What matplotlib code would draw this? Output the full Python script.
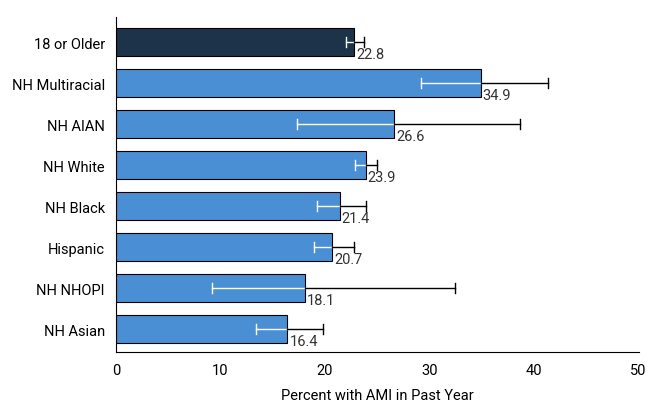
import matplotlib
matplotlib.use("Agg")
import matplotlib.pyplot as plt

cats = ["18 or Older", "NH Multiracial", "NH AIAN", "NH White", "NH Black", "Hispanic", "NH NHOPI", "NH Asian"]
vals = [22.8, 34.9, 26.6, 23.9, 21.4, 20.7, 18.1, 16.4]
lo = [22.0, 29.2, 17.3, 22.9, 19.2, 18.9, 9.2, 13.4]
hi = [23.7, 41.3, 38.7, 25.0, 23.9, 22.8, 32.4, 19.8]

plt.rcParams['font.family'] = ['Roboto', 'DejaVu Sans']
fig, ax = plt.subplots(figsize=(6.55, 4.10), dpi=100)
fig.subplots_adjust(left=0.177, right=0.975, top=0.955, bottom=0.14)
y = list(range(len(cats)))
colors = ["#1c3349"] + ["#4a8fd4"] * (len(cats) - 1)
ax.barh(y, vals, height=0.68, color=colors, edgecolor="black", linewidth=0.8, zorder=2)
cap = 0.13
for i, (v, l, h) in enumerate(zip(vals, lo, hi)):
    # inside bar: white, outside: black
    ax.plot([l, min(h, v)], [i, i], color="white", lw=1, zorder=3)
    ax.plot([l, l], [i - cap, i + cap], color="white" if l < v else "black", lw=1, zorder=3)
    if h > v:
        ax.plot([v, h], [i, i], color="black", lw=1, zorder=3)
    ax.plot([h, h], [i - cap, i + cap], color="white" if h < v else "black", lw=1, zorder=3)
    ax.text(v + 0.2, i + 0.3, f"{v:.1f}", va="center", ha="left", fontsize=10.5, color="#333333")
ax.set_yticks(y)
ax.set_yticklabels(cats, fontsize=10.5)
ax.tick_params(axis="y", length=0, pad=8)
ax.set_ylim(len(cats) - 0.45, -0.6)
ax.set_xlim(0, 50)
ax.set_xticks([0, 10, 20, 30, 40, 50])
ax.tick_params(axis="x", labelsize=10.5, length=0, pad=8)
ax.set_xlabel("Percent with AMI in Past Year", fontsize=10.5, labelpad=8)
for s in ["top", "right"]:
    ax.spines[s].set_visible(False)
plt.savefig("out.png", dpi=100)
